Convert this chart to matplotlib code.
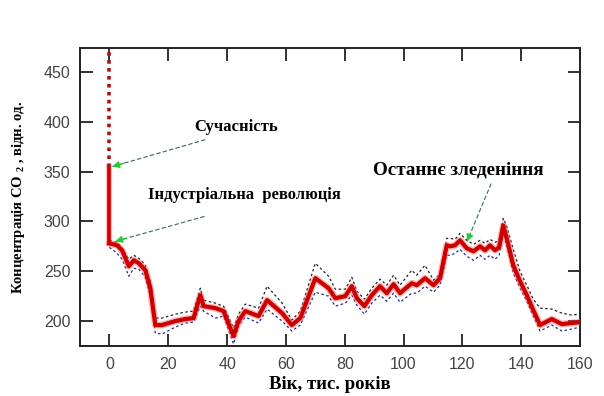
import matplotlib
matplotlib.use("Agg")
import matplotlib.pyplot as plt

# ---- data (thousand years ago, CO2 ppm) ----
age = [0, 2.6, 4.3, 6.6, 8.3, 10, 12.2, 13.9, 15.6, 17.9, 22.4, 25.8, 28.6, 30.9, 32, 36, 38.8,
       42.2, 43.9, 46.2, 50.7, 53.6, 58.7, 62, 64.9, 70, 74.5, 76.8, 80.2, 82.4, 84.1, 86.7,
       89.2, 92, 94.3, 96.6, 98.8, 102.8, 104.5, 107.3, 110.2, 112.4, 114.7, 115.8, 117.5,
       119.2, 121.5, 123.8, 126, 127.7, 129.4, 131.1, 132.5, 133.9, 135.1, 137.3, 139.6,
       141.9, 144.1, 146.4, 150.4, 153.8, 157.2, 160]
co2 = [278, 276, 271, 255, 261, 258, 251, 233, 196, 196, 200, 202, 203, 226, 215, 213, 210,
       185, 200, 210, 205, 221, 208, 196, 203, 243, 233, 223, 225, 235, 223, 215,
       226, 235, 228, 237, 228, 238, 236, 243, 236, 243, 276, 275, 276,
       281, 273, 270, 275, 271, 276, 271, 274, 296, 283, 256, 240,
       226, 211, 196, 202, 197, 198, 199]
co2_upper = [281, 279, 273, 262, 266, 263, 256, 240, 203, 203, 207, 209, 210, 233, 221, 218, 215,
             193, 207, 217, 213, 235, 218, 201, 210, 258, 245, 232, 232, 244, 230, 222,
             233, 242, 236, 246, 236, 251, 246, 256, 241, 247, 283, 283, 282,
             288, 281, 277, 281, 278, 282, 279, 281, 303, 295, 272, 250,
             236, 222, 213, 212, 208, 206, 207]
co2_lower = [274, 268, 262, 245, 253, 252, 244, 225, 188, 187, 194, 198, 199, 215, 210, 203, 205,
             177, 195, 204, 198, 212, 200, 190, 196, 229, 225, 215, 218, 226, 216, 207,
             218, 226, 220, 228, 219, 228, 228, 235, 229, 236, 266, 266, 268,
             272, 265, 261, 266, 262, 266, 262, 266, 288, 276, 248, 233,
             220, 205, 190, 196, 190, 192, 194]
industrial_age = [0, 0]
industrial_co2 = [278, 355]      # pre-industrial -> present
projection_co2 = [355, 475]      # dotted extension upward

xticks = [0, 20, 40, 60, 80, 100, 120, 140, 160]
yticks = [200, 250, 300, 350, 400, 450]

plt.rcParams['mathtext.default'] = 'regular'

fig = plt.figure(figsize=(6.04, 3.96), dpi=100)
ax = fig.add_axes([0.1325, 0.1263, 0.8278, 0.7525])

# envelopes
ax.plot(age, co2_upper, color='#222222', lw=0.9, ls=(0, (2, 2)), zorder=2)
ax.plot(age, co2_lower, color='#2a2a8a', lw=0.9, ls=(0, (2, 2)), zorder=2)
# main curve (glow + core)
ax.plot(age, co2, color='#ff6060', lw=5.0, alpha=0.45, solid_capstyle='round', zorder=3)
ax.plot(age, co2, color='#cc0000', lw=3.0, solid_joinstyle='round', zorder=4)
# industrial rise
ax.plot(industrial_age, industrial_co2, color='#ff6060', lw=4.5, alpha=0.45, zorder=3)
ax.plot(industrial_age, industrial_co2, color='#cc0000', lw=2.6, zorder=4)
ax.plot(industrial_age, projection_co2, color='#a01818', lw=2.6, ls=(0, (1, 1.2)), zorder=4)

ax.set_xlim(-10, 160)
ax.set_ylim(175, 474)
ax.set_xticks(xticks)
ax.set_yticks(yticks)

for s in ax.spines.values():
    s.set_linewidth(1.4)
    s.set_color('#222222')
ax.tick_params(direction='in', length=9, width=1.3, top=True, right=True,
               labelsize=11.5, labelcolor='#444444', color='#222222')
ax.tick_params(axis='y', pad=7)
ax.tick_params(axis='x', pad=8)
for lab in ax.get_xticklabels() + ax.get_yticklabels():
    lab.set_family('Liberation Sans')

serif = 'Liberation Serif'
ax.set_xlabel('Вік, тис. років', family=serif, weight='bold', fontsize=13.5, labelpad=3)
ax.set_ylabel('Концентрація CO $_{2}$ , відн. од.', family=serif, weight='bold',
              fontsize=10.5, labelpad=12)

# annotations
ax.text(43, 395, 'Сучасність', family=serif, weight='bold', fontsize=12,
        ha='center', va='center')
ax.text(46, 326, 'Індустріальна  революція', family=serif, weight='bold', fontsize=11.9,
        ha='center', va='center')
ax.text(118.5, 352, 'Останнє зледеніння', family=serif, weight='bold', fontsize=13.8,
        ha='center', va='center')

arrows = [((32.6, 382), (1.0, 355)), ((32.3, 305), (2.0, 280)), ((129.8, 338), (121.6, 280))]
for (x0, y0), (x1, y1) in arrows:
    ax.plot([x0, x1], [y0, y1], color='#3d6b4a', lw=0.8, ls=(0, (4, 2)), zorder=5)
    ax.annotate('', xy=(x1, y1), xytext=(x1 + (x0 - x1) * 0.12, y1 + (y0 - y1) * 0.12),
                arrowprops=dict(arrowstyle='-|>', color='#22cc33', lw=1.0,
                                mutation_scale=10, shrinkA=0, shrinkB=0), zorder=6)

fig.savefig('out.png', dpi=100)
